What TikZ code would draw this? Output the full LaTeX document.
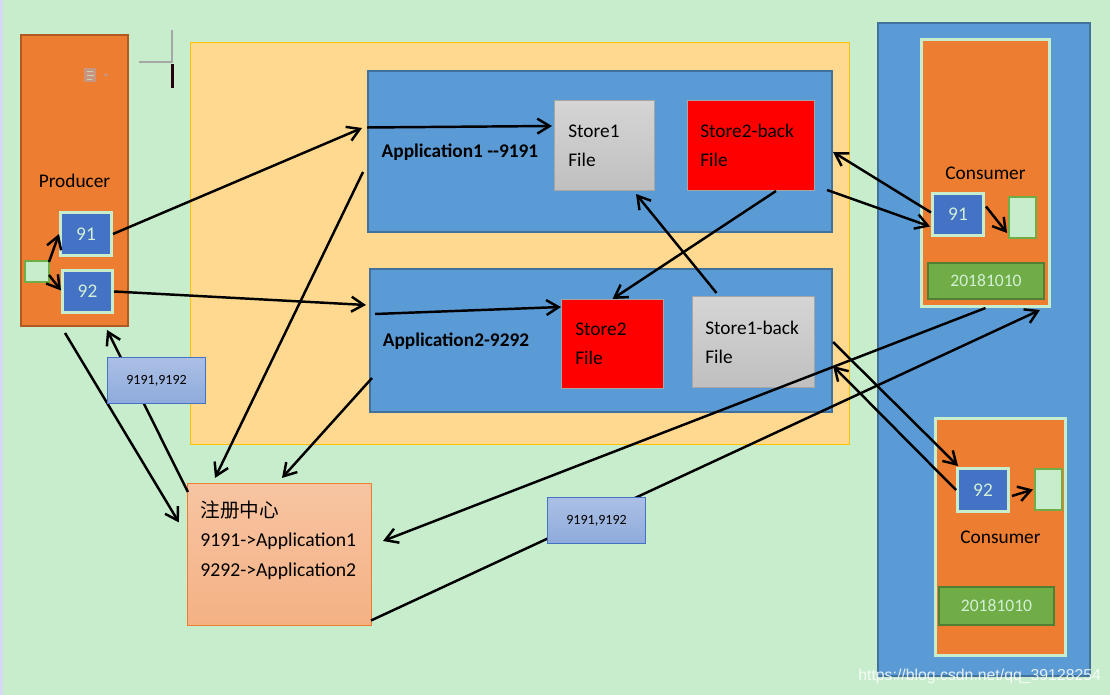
\documentclass[tikz,border=0pt]{standalone}
\usepackage{fontspec}
\setmainfont{Carlito}
\newfontfamily\cjk{Noto Sans CJK SC}
\newfontfamily\wmfont{Liberation Sans}
\usetikzlibrary{positioning, calc, arrows.meta}

\definecolor{bg}{HTML}{C7EDCC}
\definecolor{orng}{HTML}{ED7D31}
\definecolor{orngdark}{HTML}{AE5A21}
\definecolor{appblue}{HTML}{5B9BD5}
\definecolor{appedge}{HTML}{41719C}
\definecolor{portblue}{HTML}{4472C4}
\definecolor{lgreen}{HTML}{70AD47}
\definecolor{dgreen}{HTML}{507E32}
\definecolor{yel}{HTML}{FFD98F}
\definecolor{yeledge}{HTML}{FFC000}
\definecolor{pale}{HTML}{D2F0D6}
\definecolor{fileedge}{HTML}{A6A6A6}
\definecolor{iconc}{HTML}{C8957E}

\tikzset{>={Straight Barb[length=7pt, width=8.5pt]},
  sz/.style 2 args={minimum width=#1*0.02cm, minimum height=#2*0.02cm, inner sep=0pt},
  proc/.style={draw=orngdark, line width=1.1pt, fill=orng},
  port/.style={draw=bg, line width=1.7pt, fill=portblue, text=pale},
  slot/.style={draw=lgreen, line width=1.1pt, fill=bg},
  appbox/.style={draw=appedge, line width=1.1pt, fill=appblue},
  grayfile/.style={draw=fileedge, line width=0.6pt, top color=gray!33, bottom color=gray!50},
  redfile/.style={draw=fileedge, line width=0.6pt, fill=red},
  fname/.style={align=left, inner sep=0pt, font=\fontsize{11}{16.4}\selectfont},
  consbox/.style={draw=bg, line width=1.7pt, fill=orng},
  datebox/.style={draw=dgreen, line width=1.1pt, fill=lgreen, text=pale, font=\fontsize{10}{12}\selectfont},
  regbox/.style={draw=orng, line width=0.6pt, top color=orng!45!white, bottom color=orng!60!white},
  tag/.style={draw=portblue, line width=0.6pt, top color=portblue!45!white, bottom color=portblue!60!white, font=\fontsize{8}{10}\selectfont},
  flow/.style={->, line width=1.4pt}
}

\begin{document}
\begin{tikzpicture}[x=0.02cm, y=-0.02cm, font=\fontsize{11}{13}\selectfont]
    \useasboundingbox (0,0) rectangle (1110,695);
    \fill[bg] (0,0) rectangle (1110,695);
    \fill[gray!45!blue!20!white] (0,0) rectangle (3,695);

    % producer side
    \node[proc, sz={107}{291}] (prod) at (74.5,180.5) {Producer};
    \node[port, sz={51}{43}] (p91) at (86,234) {91};
    \node[port, sz={50}{42}] (p92) at (87.5,291.5) {92};
    \node[slot, sz={24}{21}] (slot0) at (37,271.5) {};
    \fill[iconc] (84,68) rectangle (96,82);
    \draw[bg!70!iconc, line width=0.5pt] (87,71) -- (93,71) (87,75) -- (94,75) (87,79) -- (92,79);
    \fill[iconc] (103,74) -- (109,74) -- (106,77) -- cycle;
    \draw[gray!70, line width=0.6pt] (139,62) -- (172,62) -- (172,30);
    \fill[black!80!purple] (170.5,64) rectangle (173.5,88);

    % the two applications
    \node[draw=yeledge, line width=0.6pt, fill=yel, sz={659}{402}] (zone) at (520,243.5) {};
    \node[appbox, sz={464}{161}] (app1) at (600,151.5) {};
    \node[appbox, sz={462}{143}] (app2) at (601,340.5) {};
    \node[font=\bfseries\fontsize{11}{13}\selectfont] (app1lbl) at (460,152) {Application1 -{}-9191};
    \node[font=\bfseries\fontsize{11}{13}\selectfont] (app2lbl) at (456,341) {Application2-9292};
    \node[grayfile, sz={100}{90}] (s1) at (604.5,145.5) {};
    \node[redfile, sz={127}{90}] (s2b) at (751,145.5) {};
    \node[redfile, sz={102}{89}] (s2) at (612.5,344) {};
    \node[grayfile, sz={122}{91}] (s1b) at (753.5,342) {};
    \node[fname, right=0.28cm of s1.west] (s1txt) {Store1\\File};
    \node[fname, right=0.26cm of s2b.west] (s2btxt) {Store2-back\\File};
    \node[fname, right=0.28cm of s2.west] (s2txt) {Store2\\File};
    \node[fname, right=0.26cm of s1b.west] (s1btxt) {Store1-back\\File};

    % consumers
    \node[appbox, sz={212}{653}] (cons) at (984,349.5) {};
    \node[consbox, sz={128}{267}] (c1) at (985.5,173) {Consumer};
    \node[port, sz={51}{42}] (c91) at (958,214.5) {91};
    \node[slot, sz={27}{41}] (slot1) at (1022.5,217.5) {};
    \node[datebox, sz={116}{36}] (d1) at (986,281) {20181010};
    \node[consbox, sz={130}{237}] (c2) at (1000.5,537) {Consumer};
    \node[port, sz={51}{43}] (c92) at (983,490) {92};
    \node[slot, sz={27}{41}] (slot2) at (1048.5,489.5) {};
    \node[datebox, sz={115}{38}] (d2) at (996.5,606) {20181010};

    % registry
    \node[regbox, sz={184}{142}] (reg) at (279.5,554.5) {};
    \node[align=left, inner sep=0pt, anchor=west, font=\fontsize{11.2}{16.7}\selectfont] (regtxt) at (200,540)
        {{\cjk 注册中心}\\9191->Application1\\9292->Application2};

    % connectors
    \draw[flow] ($(slot0.north east)+(-1,2)$) -- (p91.west);
    \draw[flow] ($(slot0.south east)+(-1,-8)$) -- ($(p92.west)+(0,-1)$);
    \draw[flow] (p91.east) -- ($(app1.west)+(-5,-23.5)$);
    \draw[flow] ($(app1.west)+(0,-24)$) -- ($(s1.west)+(-2,-19.5)$);
    \draw[flow] (p92.east) -- ($(app2.west)+(-3,-35.5)$);
    \draw[flow] ($(app2.west)+(6,-26.5)$) -- ($(s2.west)+(0,-37)$);
    \draw[flow] ($(s2b.south)+(25,0)$) -- (s2.north);
    \draw[flow] ($(s1b.north)+(-37,-3)$) -- ($(s1.south)+(31.5,3)$);
    \draw[flow] ($(app1.west)+(-4,20.5)$) -- ($(reg.north)+(-64.5,-5)$);
    \draw[flow] ($(app2.west)+(3,37.5)$) -- ($(reg.north)+(2.5,-5)$);
    \draw[flow] ($(prod.south)+(-9.5,6)$) -- ($(reg.west)+(-8,-32)$);
    \draw[flow] ($(reg.north west)+(1,9)$) -- ($(prod.south)+(32.5,3)$);
    \draw[flow] ($(c91.west)+(0,-2)$) -- ($(s2b.east)+(18,6.5)$);
    \draw[flow] ($(s2b.east)+(12,44.5)$) -- ($(c91.west)+(-1,12)$);
    \draw[flow] ($(c91.east)+(1,-8)$) -- ($(slot1.west)+(-1,15.5)$);
    \draw[flow] ($(s1b.east)+(18,0)$) -- ($(c92.north west)+(2,-1)$);
    \draw[flow] (c92.west) -- ($(s1b.east)+(18,24)$);
    \draw[flow] ($(c92.east)+(2,6)$) -- ($(slot2.west)+(-1,0)$);
    \draw[flow] (c1.south) -- ($(reg.east)+(11,-13.5)$);
    \draw[flow] ($(reg.east)+(-1,66)$) -- ($(c1.south)+(54.5,2)$);

    \node[tag, sz={98}{46}] (tag1) at (156.5,380.5) {9191,9192};
    \node[tag, sz={98}{46}] (tag2) at (596.5,520.5) {9191,9192};

    \node[anchor=west, inner sep=0pt, text=white, opacity=0.85, font=\wmfont\fontsize{9}{10}\selectfont] (wm) at (858,676) {https://blog.csdn.net/qq\_39128254};
\end{tikzpicture}
\end{document}
